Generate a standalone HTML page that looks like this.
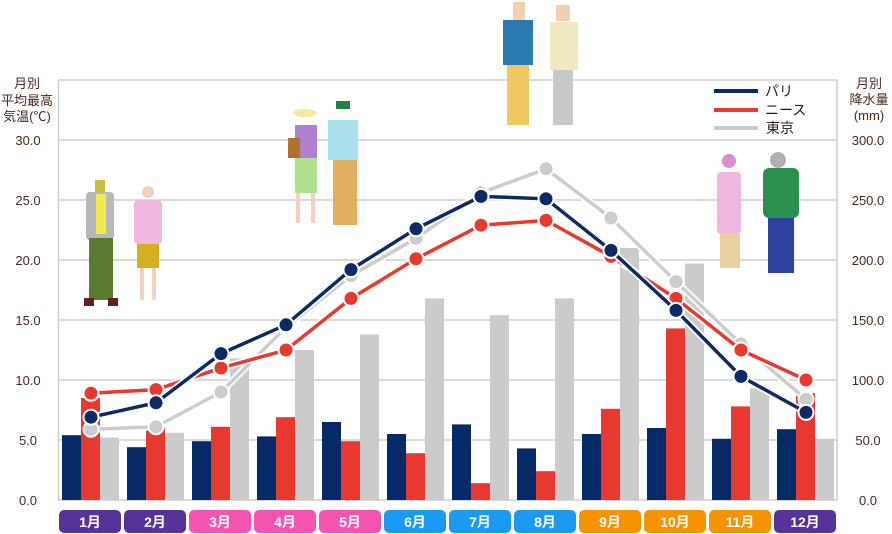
<!DOCTYPE html>
<html><head><meta charset="utf-8"><style>
html,body{margin:0;padding:0;background:#fff;width:892px;height:534px;overflow:hidden}
text{font-family:"Liberation Sans","Noto Sans CJK JP",sans-serif}
</style></head><body>
<svg width="892" height="534" viewBox="0 0 892 534" xmlns="http://www.w3.org/2000/svg">
<g stroke="#cfcfcf" stroke-width="1.5" fill="none">
<line x1="58" y1="80" x2="837" y2="80"/><line x1="58" y1="140" x2="837" y2="140"/><line x1="58" y1="200" x2="837" y2="200"/><line x1="58" y1="260" x2="837" y2="260"/><line x1="58" y1="320" x2="837" y2="320"/><line x1="58" y1="380" x2="837" y2="380"/><line x1="58" y1="440" x2="837" y2="440"/><line x1="58" y1="500" x2="837" y2="500"/>
<line x1="58.5" y1="80" x2="58.5" y2="500"/><line x1="837" y1="80" x2="837" y2="500"/>
</g>
<g font-size="13" fill="#4a2a1a" text-anchor="middle">
<text x="27" y="88">月別</text><text x="27" y="105">平均最高</text><text x="27" y="121">気温(℃)</text>
<text x="28" y="145">30.0</text><text x="28" y="205">25.0</text><text x="28" y="265">20.0</text><text x="28" y="325">15.0</text><text x="28" y="385">10.0</text><text x="28" y="445">5.0</text><text x="28" y="505">0.0</text>
<text x="869" y="88">月別</text><text x="869" y="104">降水量</text><text x="869" y="120">(mm)</text>
<text x="868" y="145">300.0</text><text x="868" y="205">250.0</text><text x="868" y="265">200.0</text><text x="868" y="325">150.0</text><text x="868" y="385">100.0</text><text x="868" y="445">50.0</text><text x="868" y="505">0.0</text>
</g>
<g id="bars"></g>
<g id="lines"></g>
<!-- legend -->
<line x1="714" y1="91" x2="758" y2="91" stroke="#0d2a66" stroke-width="4"/>
<line x1="714" y1="110" x2="758" y2="110" stroke="#e8392f" stroke-width="4"/>
<line x1="714" y1="128" x2="758" y2="128" stroke="#cccccc" stroke-width="4"/>
<g font-size="14" fill="#2a1a10"><text x="765" y="96">パリ</text><text x="765" y="115">ニース</text><text x="766" y="133">東京</text></g>
<!-- people (simplified) -->
<g>
<rect x="95" y="180" width="10" height="12" fill="#c8c040"/><rect x="86" y="192" width="28" height="48" rx="4" fill="#b8b8b8"/><rect x="96" y="194" width="10" height="40" fill="#f0ea50"/><rect x="89" y="238" width="24" height="62" fill="#5a7a30"/><rect x="84" y="298" width="10" height="8" fill="#602020"/><rect x="108" y="298" width="10" height="8" fill="#602020"/>
<circle cx="148" cy="192" r="6" fill="#f0d0c0"/><rect x="134" y="200" width="28" height="44" rx="4" fill="#f0b8e0"/><rect x="137" y="244" width="22" height="24" fill="#d4b020"/><rect x="140" y="268" width="4" height="32" fill="#f5d0c0"/><rect x="152" y="268" width="4" height="32" fill="#f5d0c0"/>
<ellipse cx="305" cy="113" rx="12" ry="4" fill="#f5e8a0"/><rect x="295" y="125" width="22" height="33" fill="#b080d0"/><rect x="288" y="138" width="12" height="20" fill="#b07030"/><rect x="295" y="158" width="22" height="35" fill="#b0e090"/><rect x="296" y="193" width="4" height="30" fill="#f5d0c0"/><rect x="311" y="193" width="4" height="30" fill="#f5d0c0"/>
<rect x="336" y="101" width="14" height="8" fill="#208040"/><rect x="328" y="120" width="30" height="40" fill="#a8e0ec"/><rect x="333" y="160" width="24" height="65" fill="#e0b060"/>
<rect x="513" y="2" width="12" height="18" fill="#f0d0b0"/><rect x="503" y="20" width="30" height="45" fill="#2a7ab0"/><rect x="507" y="65" width="22" height="60" fill="#f0c860"/>
<rect x="556" y="5" width="14" height="16" fill="#f0d0b0"/><rect x="550" y="22" width="28" height="48" fill="#f0e8c0"/><rect x="553" y="70" width="20" height="55" fill="#c8c8c8"/>
<circle cx="729" cy="161" r="7" fill="#d890d0"/><rect x="717" y="172" width="24" height="62" rx="4" fill="#f0b8e0"/><rect x="720" y="234" width="20" height="34" fill="#e8d0a0"/>
<circle cx="778" cy="160" r="8" fill="#b0b0b0"/><rect x="763" y="168" width="36" height="50" rx="6" fill="#2a9050"/><rect x="768" y="218" width="26" height="55" fill="#3040a0"/>
</g>
<g id="months"></g>
</svg>
<script>
var ns="http://www.w3.org/2000/svg";
function el(p,t,a){var e=document.createElementNS(ns,t);for(var k in a)e.setAttribute(k,a[k]);p.appendChild(e);return e;}
var paris=[5.4,4.4,4.9,5.3,6.5,5.5,6.3,4.3,5.5,6.0,5.1,5.9];
var nice=[8.5,6.0,6.1,6.9,4.9,3.9,1.4,2.4,7.6,14.3,7.8,8.9];
var tokyo=[5.2,5.6,11.8,12.5,13.8,16.8,15.4,16.8,21.0,19.7,9.3,5.1];
var tP=[6.9,8.1,12.2,14.6,19.2,22.6,25.3,25.1,20.8,15.8,10.3,7.3];
var tN=[8.9,9.2,11.0,12.5,16.8,20.1,22.9,23.3,20.3,16.8,12.5,10.0];
var tT=[5.9,6.1,9.0,14.4,18.7,21.8,25.6,27.6,23.5,18.2,13.0,8.4];
var Y=function(v){return 500-v*12;};
var b=document.getElementById('bars');
for(var i=0;i<12;i++){var x=62+65*i;
el(b,'rect',{x:x,y:Y(paris[i]),width:19,height:paris[i]*12,fill:'#062a66'});
el(b,'rect',{x:x+19,y:Y(nice[i]),width:19,height:nice[i]*12,fill:'#e8382f'});
el(b,'rect',{x:x+38,y:Y(tokyo[i]),width:19,height:tokyo[i]*12,fill:'#cbcbcb'});}
var L=document.getElementById('lines');
[[tT,'#cccccc'],[tN,'#e8392f'],[tP,'#0d2a66']].forEach(function(s){
var pts=s[0].map(function(v,i){return (91+65*i)+','+Y(v);}).join(' ');
el(L,'polyline',{points:pts,fill:'none',stroke:'#fff','stroke-width':7});
el(L,'polyline',{points:pts,fill:'none',stroke:s[1],'stroke-width':3.5});
s[0].forEach(function(v,i){el(L,'circle',{cx:91+65*i,cy:Y(v),r:7.5,fill:s[1],stroke:'#fff','stroke-width':2});});});
var m=document.getElementById('months');
var cols=['#553399','#553399','#f553b0','#f553b0','#f553b0','#1a9af0','#1a9af0','#1a9af0','#f59300','#f59300','#f59300','#553399'];
for(var i=0;i<12;i++){var x=59+65*i;
el(m,'rect',{x:x,y:510,width:62,height:23,rx:5,fill:cols[i]});
var t=el(m,'text',{x:x+31,y:527,'text-anchor':'middle','font-size':14,fill:'#fff','font-weight':'bold'});t.textContent=(i+1)+'月';}
</script>
</body></html>
